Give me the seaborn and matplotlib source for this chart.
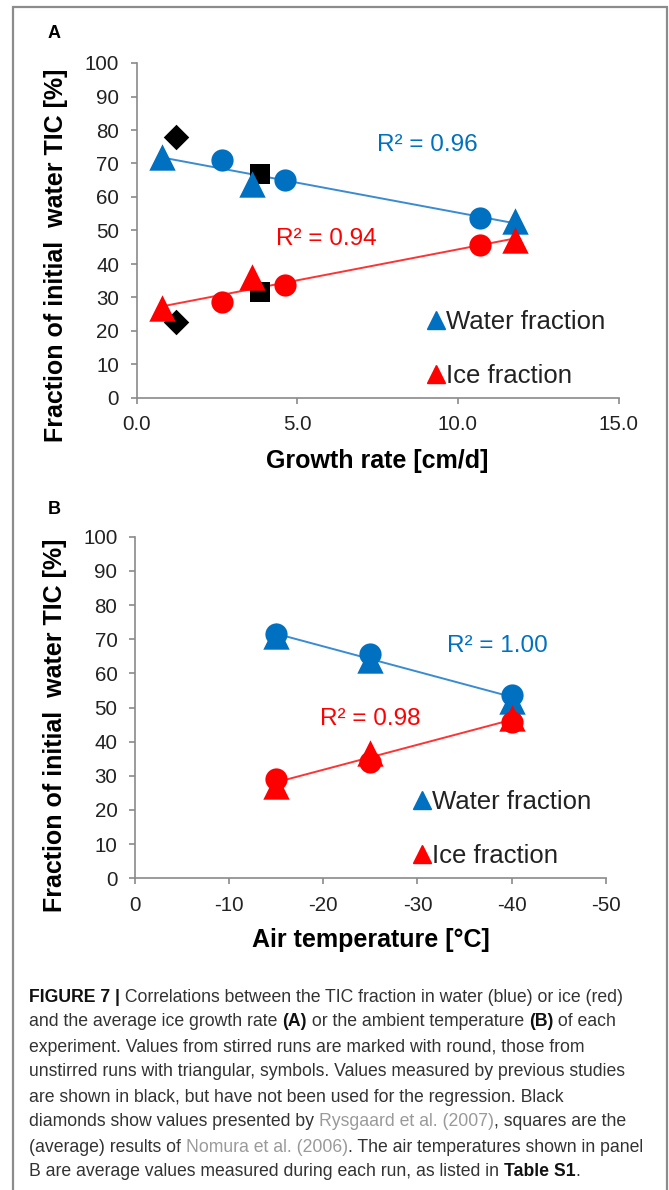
import numpy as np
import matplotlib
matplotlib.use("Agg")
import matplotlib.pyplot as plt
import seaborn as sns
from matplotlib.lines import Line2D
from matplotlib.patches import Rectangle

# ---------------- data ----------------
# Panel A: growth rate [cm/d] vs fraction of initial water TIC [%]
a_circle_x = [2.66, 4.63, 10.67]
a_water_circle = [71, 65, 53.6]
a_ice_circle = [28.7, 33.7, 45.7]
a_tri_x = [0.79, 3.58, 11.76]
a_water_tri = [71.8, 64, 52.9]
a_ice_tri = [26.8, 36.2, 47.2]
a_diamond_x = [1.22, 1.22]
a_diamond_y = [78, 22.8]
a_square_x = [3.85, 3.85]
a_square_y = [67, 31.7]
a_r2 = ["R² = 0.96", "R² = 0.94"]

# Panel B: air temperature [°C]
b_temp = [-15, -25, -40]
b_water_circle = [71.6, 65.6, 53.8]
b_water_tri = [71, 63.8, 52]
b_ice_circle = [29.2, 34.1, 45.8]
b_ice_tri = [27, 36.8, 47]
b_r2 = ["R² = 1.00", "R² = 0.98"]

yticks = [0, 10, 20, 30, 40, 50, 60, 70, 80, 90, 100]
a_xticks = [0, 5, 10, 15]
a_xticklabels = ["0.0", "5.0", "10.0", "15.0"]
b_xticks = [0, -10, -20, -30, -40, -50]
b_xticklabels = ["0", "-10", "-20", "-30", "-40", "-50"]
legend_labels = ["Water fraction", "Ice fraction"]

# ---------------- style ----------------
sns.set_style("white")
plt.rcParams['font.family'] = ['Liberation Sans', 'DejaVu Sans']
plt.rcParams['axes.unicode_minus'] = False

BLUE = "#0070C0"
BLUE_LINE = "#3A8BD0"
RED = "#FF0000"
RED_LINE = "#FF3333"
SPINE = "#8A8A8A"
TXT = "#222222"

W, H = 669, 1190
fig = plt.figure(figsize=(W / 100, H / 100), dpi=100)

def px_axes(left, right, top, bottom):
    return fig.add_axes([left / W, 1 - bottom / H, (right - left) / W, (bottom - top) / H])

axA = px_axes(136.5, 618.7, 63, 398)
axB = px_axes(134.8, 605.9, 536.7, 878.3)

S_CIRC = 16 ** 2
S_TRI = 19 ** 2
S_DIA = 13 ** 2
S_SQ = 15 ** 2

def style_axes(ax, xticks, xlabels, xlim):
    ax.set_xlim(*xlim)
    ax.set_ylim(0, 100)
    ax.set_yticks(yticks)
    ax.set_yticklabels([str(v) for v in yticks])
    ax.set_xticks(xticks)
    ax.set_xticklabels(xlabels)
    sns.despine(ax=ax)
    for s in ["left", "bottom"]:
        ax.spines[s].set_color(SPINE)
        ax.spines[s].set_linewidth(1.2)
        ax.spines[s].set_zorder(0.5)
    ax.tick_params(axis="both", which="major", direction="out", length=4.5, width=1.2,
                   color=SPINE, labelsize=14.8, labelcolor=TXT, pad=8, left=True, bottom=True)
    ax.set_xlabel("")
    ax.set_ylabel("")
    ax.patch.set_alpha(0)

def add_legend(ax, anchor):
    handles = [Line2D([], [], marker="^", color=BLUE, linestyle="none", markersize=13),
               Line2D([], [], marker="^", color=RED, linestyle="none", markersize=13)]
    leg = ax.legend(handles, legend_labels, loc="upper left", bbox_to_anchor=anchor,
                    frameon=False, fontsize=18.5, handlelength=0.55, handletextpad=0.12,
                    labelspacing=1.16, borderpad=0, borderaxespad=0)
    for t in leg.get_texts():
        t.set_color(TXT)

# ---------------- Panel A ----------------
ax = axA
sns.scatterplot(x=a_diamond_x, y=a_diamond_y, marker="D", s=S_DIA, color="black",
                linewidth=0, ax=ax, zorder=3)
sns.scatterplot(x=a_square_x, y=a_square_y, marker="s", s=S_SQ, color="black",
                linewidth=0, ax=ax, zorder=3)
ax_x_all = a_tri_x + a_circle_x
sns.regplot(x=np.array(ax_x_all), y=np.array(a_water_tri + a_water_circle), scatter=False,
            ci=None, truncate=True, color=BLUE_LINE, line_kws=dict(lw=1.4, zorder=2), ax=ax)
sns.regplot(x=np.array(ax_x_all), y=np.array(a_ice_tri + a_ice_circle), scatter=False,
            ci=None, truncate=True, color=RED_LINE, line_kws=dict(lw=1.4, zorder=2), ax=ax)
sns.scatterplot(x=a_tri_x, y=a_water_tri, marker="^", s=S_TRI, color=BLUE, linewidth=0, ax=ax, zorder=4)
sns.scatterplot(x=a_circle_x, y=a_water_circle, marker="o", s=S_CIRC, color=BLUE, linewidth=0, ax=ax, zorder=4)
sns.scatterplot(x=a_tri_x, y=a_ice_tri, marker="^", s=S_TRI, color=RED, linewidth=0, ax=ax, zorder=4)
sns.scatterplot(x=a_circle_x, y=a_ice_circle, marker="o", s=S_CIRC, color=RED, linewidth=0, ax=ax, zorder=4)
style_axes(ax, a_xticks, a_xticklabels, (0, 15))
ax.text(9.05, 75.5, a_r2[0], color=BLUE, fontsize=17.5, ha="center", va="center")
ax.text(5.9, 47.5, a_r2[1], color=RED, fontsize=17.5, ha="center", va="center")
add_legend(ax, (0.6065, 0.262))

# ---------------- Panel B ----------------
ax = axB
b_x_all = b_temp + b_temp
sns.regplot(x=np.array(b_x_all), y=np.array(b_water_tri + b_water_circle), scatter=False,
            ci=None, truncate=True, color=BLUE_LINE, line_kws=dict(lw=1.4, zorder=2), ax=ax)
sns.regplot(x=np.array(b_x_all), y=np.array(b_ice_tri + b_ice_circle), scatter=False,
            ci=None, truncate=True, color=RED_LINE, line_kws=dict(lw=1.4, zorder=2), ax=ax)
sns.scatterplot(x=b_temp, y=b_water_tri, marker="^", s=S_TRI, color=BLUE, linewidth=0, ax=ax, zorder=4)
sns.scatterplot(x=b_temp, y=b_water_circle, marker="o", s=S_CIRC, color=BLUE, linewidth=0, ax=ax, zorder=4)
sns.scatterplot(x=b_temp, y=b_ice_tri, marker="^", s=S_TRI, color=RED, linewidth=0, ax=ax, zorder=4)
sns.scatterplot(x=b_temp, y=b_ice_circle, marker="o", s=S_CIRC, color=RED, linewidth=0, ax=ax, zorder=4)
style_axes(ax, b_xticks, b_xticklabels, (0, -50))
ax.text(-38.5, 68, b_r2[0], color=BLUE, fontsize=17.5, ha="center", va="center")
ax.text(-25.0, 46.7, b_r2[1], color=RED, fontsize=17.5, ha="center", va="center")
add_legend(ax, (0.595, 0.258))

# ---------------- labels ----------------
def ftext(x, y, s, **kw):
    return fig.text(x / W, 1 - y / H, s, **kw)

ftext(54, 33, "A", fontsize=13, fontweight="bold", ha="center", va="center", color="black")
ftext(54, 509, "B", fontsize=13, fontweight="bold", ha="center", va="center", color="black")
ftext(56, 255, "Fraction of initial  water TIC [%]", fontsize=18, fontweight="bold",
      rotation=90, ha="center", va="center", color="black")
ftext(55, 725, "Fraction of initial  water TIC [%]", fontsize=18, fontweight="bold",
      rotation=90, ha="center", va="center", color="black")
ftext(377, 461, "Growth rate [cm/d]", fontsize=18, fontweight="bold",
      ha="center", va="center", color="black")
ftext(371, 940, "Air temperature [°C]", fontsize=18, fontweight="bold",
      ha="center", va="center", color="black")

# ---------------- caption ----------------
CAP = "#333333"
LINK = "#9A9A9A"
BOLD = "#111111"
caption_lines = [
    [("FIGURE 7 |", "b"), (" Correlations between the TIC fraction in water (blue) or ice (red)", "r")],
    [("and the average ice growth rate ", "r"), ("(A)", "b"), (" or the ambient temperature ", "r"),
     ("(B)", "b"), (" of each", "r")],
    [("experiment. Values from stirred runs are marked with round, those from", "r")],
    [("unstirred runs with triangular, symbols. Values measured by previous studies", "r")],
    [("are shown in black, but have not been used for the regression. Black", "r")],
    [("diamonds show values presented by ", "r"), ("Rysgaard et al. (2007)", "g"),
     (", squares are the", "r")],
    [("(average) results of ", "r"), ("Nomura et al. (2006)", "g"),
     (". The air temperatures shown in panel", "r")],
    [("B are average values measured during each run, as listed in ", "r"), ("Table S1", "b"),
     (".", "r")],
]
cap_y = [997, 1022, 1047, 1072, 1097, 1122, 1147, 1172]
CAP_FS = 12.7
for y, pieces in zip(cap_y, caption_lines):
    prev = None
    for txt, kind in pieces:
        kw = dict(fontsize=CAP_FS, va="center", ha="left")
        if kind == "b":
            kw.update(fontweight="bold", color=BOLD)
        elif kind == "g":
            kw.update(color=LINK)
        else:
            kw.update(color=CAP)
        if prev is None:
            prev = ftext(29, y, txt, **kw)
        else:
            prev = plt.annotate(txt, xy=(1, 0.5), xycoords=prev, xytext=(0, 0),
                                textcoords="offset points", annotation_clip=False, **kw)

# frame around figure
fig.add_artist(Rectangle((13 / W, -0.01), (667 - 13) / W, 1.01 - 7 / H,
                         transform=fig.transFigure, fill=False, edgecolor="#8C8C8C", lw=1.6))

fig.savefig("out.png", dpi=100)
